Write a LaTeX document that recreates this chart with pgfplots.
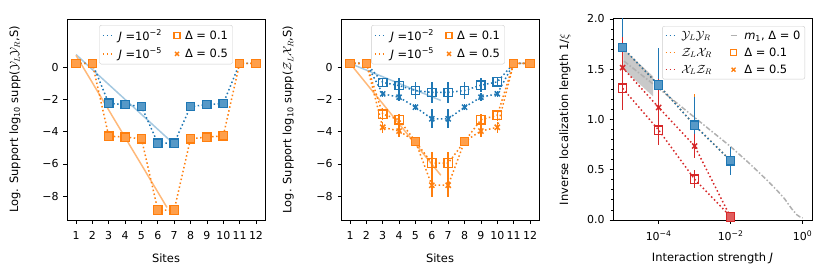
\documentclass[border=0pt]{standalone}
\usepackage{fontspec}
\setmainfont{DejaVu Sans}
\usepackage{pgfplots}
\pgfplotsset{compat=1.18}
\definecolor{tblue}{HTML}{1F77B4}
\definecolor{torange}{HTML}{FF7F0E}
\definecolor{tred}{HTML}{D62728}
\definecolor{mgray}{HTML}{B0B0B0}
\pgfplotsset{
  base/.style={scale only axis, width=198bp, height=201bp, anchor=south west,
    /pgf/number format/assume math mode=true,
    tick align=outside, tick pos=left, major tick length=3.5bp, minor tick length=2bp,
    every tick/.style={black, line width=0.8bp}, axis line style={line width=1bp},
    tick label style={font=\fontsize{11}{13}\selectfont},
    xticklabel style={yshift=-4bp},
    yticklabel style={xshift=-1.5bp},
    label style={font=\fontsize{11.5}{13}\selectfont},
    xlabel style={at={(axis description cs:0.5,-0.189)}, anchor=center},
    legend cell align=left,
    legend image code/.code={\draw[mark repeat=2,mark phase=2,##1] plot coordinates {(0bp,0bp) (5bp,0bp) (10bp,0bp)};},
    legend style={draw=black!20, rounded corners=2bp, fill=white, fill opacity=0.8, text opacity=1,
      font=\fontsize{11.5}{13}\selectfont, inner sep=2.5bp, row sep=2.5bp,
      /tikz/every odd column/.append style={column sep=3bp},
      /tikz/every even column/.append style={column sep=10bp}},
  },
  dotl/.style={line width=1.5bp, dash pattern=on 1.5bp off 2.5bp},
  sq/.style={mark=square, mark size=4.2bp, mark options={solid, line width=1.3bp, fill=none}},
  sqf/.style={mark=square*, mark size=4.2bp, mark options={solid, line width=1.3bp, fill=#1!75!white, draw=#1}},
  xm/.style={mark=x, mark size=3.6bp, mark options={solid, line width=1.5bp}},
  lsq/.style={only marks, mark=square, mark size=3bp, mark options={solid, line width=1.2bp, fill=none}},
  lx/.style={only marks, mark=x, mark size=2.8bp, mark options={solid, line width=1.4bp}},
  eb/.style={error bars/.cd, y dir=both, y explicit, error mark=none, error bar style={line width=1.5bp, solid}},
}
\begin{document}
\begin{tikzpicture}
\useasboundingbox (0bp,0bp) rectangle (831bp,279bp);
% ---------------- Panel 1
\begin{axis}[base, at={(67bp,59bp)},
  xmin=0.45, xmax=12.55, ymin=-9.48, ymax=3.01,
  xtick={1,2,3,4,5,6,7,8,9,10,11,12},
  ytick={-8,-6,-4,-2,0}, yticklabels={−8,−6,−4,−2,0},
  xlabel={Sites},
  ylabel={Log. Support log\textsubscript{10} supp($\mathcal{Y}_L\mathcal{Y}_R$,S)},
  ylabel style={at={(axis description cs:-0.263,0.5)}, anchor=center},
  legend columns=2,
  legend style={at={(axis description cs:0.5,0.97)}, anchor=north},
]
\addlegendimage{tblue, dotl}
\addlegendentry{\textit{J} =10\textsuperscript{−2}}
\addlegendimage{torange, lsq}
\addlegendentry{Δ = 0.1}
\addlegendimage{torange, dotl}
\addlegendentry{\textit{J} =10\textsuperscript{−5}}
\addlegendimage{torange, lx}
\addlegendentry{Δ = 0.5}
% fit lines
\addplot[forget plot, tblue!40!white, line width=1.5bp] coordinates {(1,0.8) (7.07,-4.84)};
\addplot[forget plot, torange!55!white, line width=1.5bp] coordinates {(1,0.75) (6.56,-8.7)};
% J=1e-2
\addplot[forget plot, tblue, dotl, sqf=tblue] coordinates {
(1,0.25) (2,0.25) (3,-2.23) (4,-2.31) (5,-2.43) (6,-4.7) (7,-4.7) (8,-2.43) (9,-2.31) (10,-2.25) (11,0.25) (12,0.25)};
% J=1e-5
\addplot[forget plot, torange, dotl, sqf=torange] coordinates {
(1,0.25) (2,0.25) (3,-4.27) (4,-4.33) (5,-4.43) (6,-8.86) (7,-8.86) (8,-4.43) (9,-4.33) (10,-4.25) (11,0.25) (12,0.25)};
\end{axis}
% ---------------- Panel 2
\begin{axis}[base, at={(341bp,59bp)},
  xmin=0.45, xmax=12.55, ymin=-9.48, ymax=3.01,
  xtick={1,2,3,4,5,6,7,8,9,10,11,12},
  ytick={-8,-6,-4,-2,0}, yticklabels={−8,−6,−4,−2,0},
  xlabel={Sites},
  ylabel={Log. Support log\textsubscript{10} supp($\mathcal{Z}_L\mathcal{X}_R$,S)},
  ylabel style={at={(axis description cs:-0.266,0.5)}, anchor=center},
  legend columns=2,
  legend style={at={(axis description cs:0.49,0.97)}, anchor=north},
]
\addlegendimage{tblue, dotl}
\addlegendentry{\textit{J} =10\textsuperscript{−2}}
\addlegendimage{torange, lsq}
\addlegendentry{Δ = 0.1}
\addlegendimage{torange, dotl}
\addlegendentry{\textit{J} =10\textsuperscript{−5}}
\addlegendimage{torange, lx}
\addlegendentry{Δ = 0.5}
\addplot[forget plot, tblue!40!white, line width=1.5bp] coordinates {(1,0.25) (6.55,-2.05)};
\addplot[forget plot, torange!55!white, line width=1.5bp] coordinates {(1,0.25) (6.55,-6.7)};
% blue, Delta=0.5
\addplot[forget plot, tblue, dotl, xm, eb] table[x=x,y=y,y error=e] {
x y e
1 0.25 0
2 0.25 0
3 -1.64 0.2
4 -1.85 0.25
5 -2.47 0.2
6 -3.19 0.6
7 -3.19 0.6
8 -2.47 0.2
9 -1.85 0.25
10 -1.64 0.2
11 0.25 0
12 0.25 0
};
% blue, Delta=0.1
\addplot[forget plot, tblue, dotl, sq, eb] table[x=x,y=y,y error=e] {
x y e
1 0.25 0
2 0.25 0
3 -0.93 0.3
4 -1.13 0.45
5 -1.44 0.55
6 -1.55 0.65
7 -1.55 0.65
8 -1.44 0.55
9 -1.1 0.45
10 -0.9 0.3
11 0.25 0
12 0.25 0
};
% orange, Delta=0.5
\addplot[forget plot, torange, dotl, xm, eb] table[x=x,y=y,y error=e] {
x y e
1 0.25 0
2 0.25 0
3 -3.72 0.35
4 -3.95 0.35
5 -4.6 0.15
6 -7.32 0.7
7 -7.32 0.7
8 -4.6 0.15
9 -3.95 0.35
10 -3.72 0.35
11 0.25 0
12 0.25 0
};
% orange, Delta=0.1
\addplot[forget plot, torange, dotl, sq, eb] table[x=x,y=y,y error=e] {
x y e
1 0.25 0
2 0.25 0
3 -2.9 0.35
4 -3.25 0.35
5 -4.6 0.15
6 -5.94 0.7
7 -5.94 0.7
8 -4.6 0.15
9 -3.25 0.35
10 -2.97 0.35
11 0.25 0
12 0.25 0
};
\addplot[forget plot, only marks, sqf=torange] coordinates {(1,0.25) (2,0.25) (5,-4.6) (8,-4.6) (11,0.25) (12,0.25)};
\end{axis}
% ---------------- Panel 3
\begin{axis}[base, at={(613bp,59bp)}, width=199bp,
  xmode=log, xmin=5.4e-6, xmax=1.82, ymin=0, ymax=2,
  xtick={1e-4,1e-2,1}, xticklabels={10\textsuperscript{−4},10\textsuperscript{−2},10\textsuperscript{0}},
  minor xtick={},
  ytick={0,0.5,1,1.5,2}, yticklabels={0.0,0.5,1.0,1.5,2.0},
  minor ytick={0.1,0.2,0.3,0.4,0.6,0.7,0.8,0.9,1.1,1.2,1.3,1.4,1.6,1.7,1.8,1.9},
  xlabel={Interaction strength \textit{J}},
  ylabel={Inverse localization length 1/$\xi$},
  ylabel style={at={(axis description cs:-0.241,0.5)}, anchor=center},
  legend columns=2,
  legend style={at={(axis description cs:0.965,0.965)}, anchor=north east, row sep=3bp,
    /tikz/every even column/.append style={column sep=14bp}},
]
\addlegendimage{tblue, dotl}
\addlegendentry{$\mathcal{Y}_L\mathcal{Y}_R$}
\addlegendimage{mgray, line width=1.5bp, mark=none, mark repeat=1, dash pattern=on 6bp off 4bp, dash phase=-2bp}
\addlegendentry{\textit{m}\textsubscript{1}, Δ = 0}
\addlegendimage{torange, dotl}
\addlegendentry{$\mathcal{Z}_L\mathcal{X}_R$}
\addlegendimage{torange, lsq}
\addlegendentry{Δ = 0.1}
\addlegendimage{tred, dotl}
\addlegendentry{$\mathcal{X}_L\mathcal{Z}_R$}
\addlegendimage{torange, lx}
\addlegendentry{Δ = 0.5}
% m1 band and line
\addplot[forget plot, fill=black!25, draw=none, opacity=0.85] coordinates {
(1.05e-5,1.70) (7.0e-5,1.43) (7.0e-5,1.23) (1.05e-5,1.50)} -- cycle;
\addplot[forget plot, mgray, line width=1.5bp, dash pattern=on 5bp off 2bp on 1.5bp off 2bp] coordinates {
(1.1e-5,1.58) (1e-4,1.31) (1e-3,1.02) (1e-2,0.73) (3.16e-2,0.57) (1e-1,0.40) (0.2,0.29) (0.316,0.21) (0.5,0.11) (0.7,0.05) (0.85,0.03) (1,0.02)};
% Z_L X_R (hidden under blue)
\addplot[forget plot, torange, dotl, sq, eb] table[x=x,y=y,y error=e] {
x y e
1e-5 1.715 0.33
1e-4 1.343 0.37
1e-3 0.942 0.31
1e-2 0.59 0.14
};
% Y_L Y_R
\addplot[forget plot, tblue, dotl, sqf=tblue, eb] table[x=x,y=y,y error=e] {
x y e
1e-5 1.715 0.33
1e-4 1.343 0.37
1e-3 0.942 0.28
1e-2 0.59 0.14
};
% X_L Z_R Delta=0.5
\addplot[forget plot, tred, dotl, xm, eb] table[x=x,y=y,y error=e] {
x y e
1e-5 1.516 0.3
1e-4 1.12 0.28
1e-3 0.736 0.115
1e-2 0.027 0
};
% X_L Z_R Delta=0.1
\addplot[forget plot, tred, dotl, sq, eb] table[x=x,y=y,y error=e] {
x y e
1e-5 1.31 0.22
1e-4 0.895 0.15
1e-3 0.405 0.09
1e-2 0.033 0
};
\addplot[forget plot, only marks, sqf=tred] coordinates {(1e-2,0.03)};
\end{axis}
\end{tikzpicture}
\end{document}
